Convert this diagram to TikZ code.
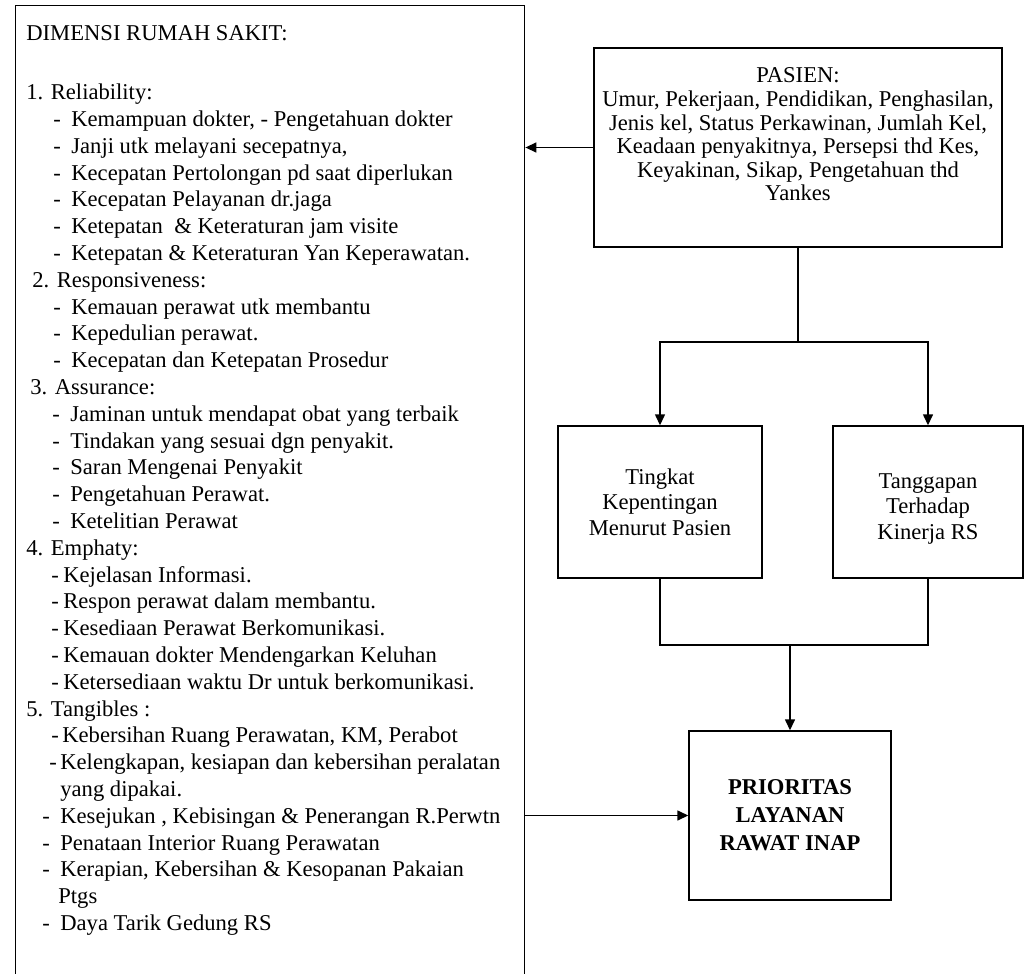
\documentclass[tikz,border=0pt]{standalone}
\usepackage{fontspec}
\setmainfont{Liberation Serif}
\usetikzlibrary{arrows.meta, positioning, calc}
% tiret de liste : retrait du tiret, retrait du texte
\newcommand{\tiret}[2]{\hspace*{#1}\makebox[\dimexpr #2-#1\relax][l]{-}}

\begin{document}
\begin{tikzpicture}[x=0.5pt, y=-0.5pt, >={Triangle[length=5.5pt, width=5pt]},
  every node/.style={font=\fontsize{11.3}{13.4}\selectfont},
  kotak/.style={draw, line width=0.7pt, inner sep=0pt},
  garis/.style={line width=0.7pt}]

  % === CADRE (1 unite = 1 px) ===
  \clip (0,0) rectangle (1029,974);

  % === DIMENSI RUMAH SAKIT ===
  \node[kotak, anchor=north west, minimum width=254.5pt, minimum height=500pt] (dimensi) at (15,5) {};
  \node[anchor=north west, align=left, inner sep=0pt] (dimtxt) at (26,25.5) {DIMENSI RUMAH SAKIT:\\[16pt]
    1. Reliability:\\
    \tiret{13.5pt}{22.5pt}Kemampuan dokter, - Pengetahuan dokter\\
    \tiret{13.5pt}{22.5pt}Janji utk melayani secepatnya,\\
    \tiret{13.5pt}{22.5pt}Kecepatan Pertolongan pd saat diperlukan\\
    \tiret{13.5pt}{22.5pt}Kecepatan Pelayanan dr.jaga\\
    \tiret{13.5pt}{22.5pt}Ketepatan \ \& Keteraturan jam visite\\
    \tiret{13.5pt}{22.5pt}Ketepatan \& Keteraturan Yan Keperawatan.\\
    \hspace*{3pt}2. Responsiveness:\\
    \tiret{13.5pt}{22.5pt}Kemauan perawat utk membantu\\
    \tiret{13.5pt}{22.5pt}Kepedulian perawat.\\
    \tiret{13.5pt}{22.5pt}Kecepatan dan Ketepatan Prosedur\\
    \hspace*{2pt}3. Assurance:\\
    \tiret{13pt}{22pt}Jaminan untuk mendapat obat yang terbaik\\
    \tiret{13pt}{22pt}Tindakan yang sesuai dgn penyakit.\\
    \tiret{13pt}{22pt}Saran Mengenai Penyakit\\
    \tiret{13pt}{22pt}Pengetahuan Perawat.\\
    \tiret{13pt}{22pt}Ketelitian Perawat\\
    4. Emphaty:\\
    \tiret{12.5pt}{18.5pt}Kejelasan Informasi.\\
    \tiret{12.5pt}{18.5pt}Respon perawat dalam membantu.\\
    \tiret{12.5pt}{18.5pt}Kesediaan Perawat Berkomunikasi.\\
    \tiret{12.5pt}{18.5pt}Kemauan dokter Mendengarkan Keluhan\\
    \tiret{12.5pt}{18.5pt}Ketersediaan waktu Dr untuk berkomunikasi.\\
    5. Tangibles :\\
    \tiret{12.5pt}{18pt}Kebersihan Ruang Perawatan, KM, Perabot\\
    \tiret{11.5pt}{17pt}Kelengkapan, kesiapan dan kebersihan peralatan\\
    \hspace*{17pt}yang dipakai.\\
    \tiret{8pt}{17pt}Kesejukan , Kebisingan \& Penerangan R.Perwtn\\
    \tiret{8pt}{17pt}Penataan Interior Ruang Perawatan\\
    \tiret{8pt}{17pt}Kerapian, Kebersihan \& Kesopanan Pakaian\\
    \hspace*{16pt}Ptgs\\
    \tiret{8pt}{17pt}Daya Tarik Gedung RS};

  % === PASIEN ===
  \node[kotak, minimum width=204pt, minimum height=99.5pt] (pasien) at (798,147.5) {};
  \node[align=center, inner sep=0pt, font=\fontsize{11.3}{11.8}\selectfont] (pasientxt)
    at ([yshift=6.5pt]pasien.center) {PASIEN:\\Umur, Pekerjaan, Pendidikan, Penghasilan,\\
    Jenis kel, Status Perkawinan, Jumlah Kel,\\Keadaan penyakitnya, Persepsi thd Kes,\\
    Keyakinan, Sikap, Pengetahuan thd\\Yankes};

  % === TINGKAT / TANGGAPAN ===
  \node[kotak, minimum width=102pt, minimum height=76pt, align=center,
    font=\fontsize{11.3}{12.75}\selectfont] (tingkat) at (660,502) {Tingkat\\Kepentingan\\Menurut Pasien};
  \node[kotak, minimum width=95pt, minimum height=76pt] (tanggap) at (928,502) {};
  \node[align=center, inner sep=0pt, font=\fontsize{11.3}{12.75}\selectfont] (tanggaptxt)
    at ([yshift=-3.5pt]tanggap.center) {Tanggapan\\Terhadap\\Kinerja RS};

  % === PRIORITAS ===
  \node[kotak, minimum width=101pt, minimum height=84.5pt, align=center,
    font=\fontsize{11.3}{14}\selectfont\bfseries] (prior) at (790,815.5) {PRIORITAS\\LAYANAN\\RAWAT INAP};

  % === LIAISONS ===
  \coordinate (pisah) at (798,342);
  \coordinate (gabung) at (790,645);
  \draw[garis] (pasien.south) -- (pisah);
  \draw[garis, ->] (pisah) -| (tingkat.north);
  \draw[garis, ->] (pisah) -| (tanggap.north);
  \draw[garis] (tingkat.south) |- (gabung) -| (tanggap.south);
  \draw[garis, ->] (gabung) -- (prior.north);
  \draw[garis, ->] (pasien.west) -- (pasien.west -| dimensi.east);
  \draw[garis, ->] (prior.west -| dimensi.east) -- (prior.west);

\end{tikzpicture}
\end{document}
